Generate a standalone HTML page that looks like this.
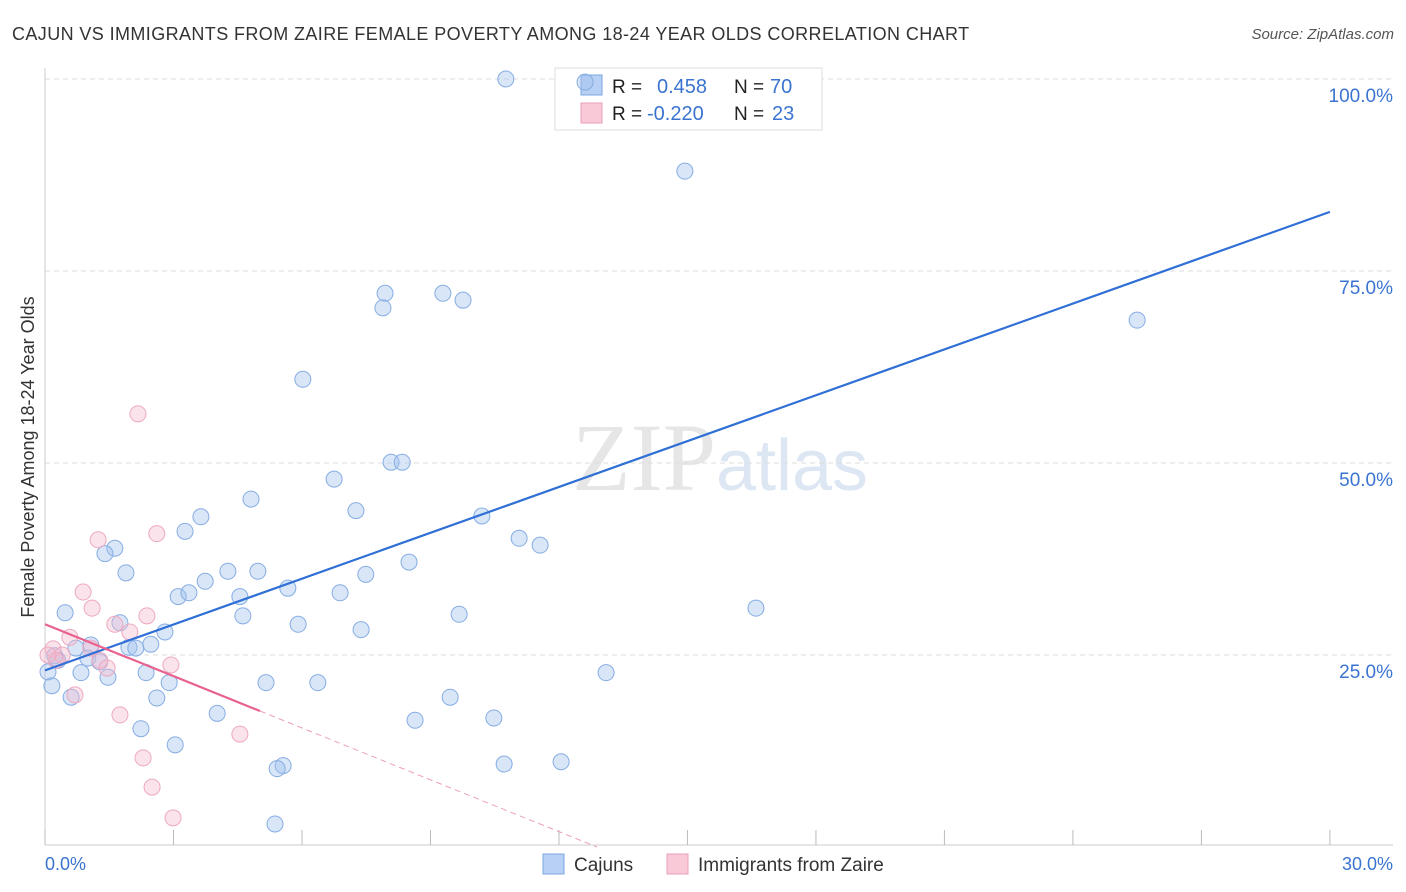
<!DOCTYPE html>
<html><head><meta charset="utf-8"><style>
body{margin:0;background:#fff;font-family:"Liberation Sans",sans-serif;}
svg{display:block}
</style></head><body>
<svg id="chart" width="1406" height="892">
<text x="12" y="40" font-size="18" fill="#333" letter-spacing="0.4">CAJUN VS IMMIGRANTS FROM ZAIRE FEMALE POVERTY AMONG 18-24 YEAR OLDS CORRELATION CHART</text>
<text x="1394" y="39" font-size="15" fill="#555" font-style="italic" text-anchor="end">Source: ZipAtlas.com</text>
<text x="720" y="490" font-size="96" fill="#e6e6e6" text-anchor="middle" font-family="Liberation Serif">ZIP<tspan fill="#dde6f3" font-family="Liberation Sans" font-size="72">atlas</tspan></text>
<g id="grid"></g>
<g id="axes"></g>
<g>
<rect x="555" y="68" width="267" height="62" fill="#fff" stroke="#ddd"/>
<rect x="581" y="75" width="21" height="20" fill="#b8d0f3" stroke="#7aa6e0"/>
<rect x="581" y="103" width="21" height="20" fill="#f9c9d7" stroke="#eaa0b8"/>
<text x="612" y="93" font-size="19" fill="#222">R = </text><text x="657" y="93" font-size="20" fill="#3a74d0">0.458</text>
<text x="734" y="93" font-size="19" fill="#222">N = </text><text x="770" y="93" font-size="20" fill="#3a74d0">70</text>
<text x="612" y="120" font-size="19" fill="#222">R = </text><text x="647" y="120" font-size="20" fill="#3a74d0">-0.220</text>
<text x="734" y="120" font-size="19" fill="#222">N = </text><text x="772" y="120" font-size="20" fill="#3a74d0">23</text>
</g>
<g id="marks"></g>
<text transform="translate(34,457) rotate(-90)" font-size="18" fill="#333" text-anchor="middle">Female Poverty Among 18-24 Year Olds</text>
<g>
<rect x="543" y="854" width="21" height="20" fill="#b8d0f3" stroke="#7aa6e0"/>
<text x="574" y="871" font-size="19" fill="#333">Cajuns</text>
<rect x="667" y="854" width="21" height="20" fill="#f9c9d7" stroke="#eaa0b8"/>
<text x="698" y="871" font-size="19" fill="#333">Immigrants from Zaire</text>
</g>
</svg>
<script>
const blueX=[10.76,12.61,14.94,25.5,7.94,7.89,9.29,9.76,6.02,8.08,8.34,6.75,4.81,7.26,10.2,3.64,3.27,11.07,11.56,1.63,1.40,8.5,1.89,4.27,4.97,7.49,3.74,5.67,3.11,3.36,4.55,6.89,0.47,4.62,9.67,16.6,1.75,5.91,2.8,7.38,2.47,1.96,2.12,1.07,0.72,0.3,1.0,1.28,0.84,1.47,2.36,13.1,0.16,2.9,5.16,6.37,2.61,0.61,9.46,4.02,10.48,8.64,2.24,3.04,5.56,5.42,10.72,12.05,5.37,0.07,0.23];
const blueY=[100,99.6,88.0,68.6,72.1,70.2,72.1,71.2,60.9,50.1,50.1,47.9,45.3,43.8,43.1,43.0,41.1,40.2,39.3,38.9,38.2,37.1,35.7,35.9,35.9,35.5,34.6,33.7,32.6,33.1,32.6,33.1,30.5,30.1,30.3,31.1,29.2,29.0,28.0,28.3,26.4,26.0,25.9,26.3,25.9,24.3,24.6,24.1,22.7,22.1,22.7,22.7,21.0,21.4,21.4,21.4,19.4,19.5,19.5,17.4,16.8,16.5,15.4,13.3,10.6,10.2,10.8,11.1,3.0,22.8,24.9];
const pinkX=[2.17,2.61,1.24,0.89,1.1,2.38,1.63,1.98,0.58,0.19,0.4,0.26,1.07,1.28,1.45,2.94,0.7,1.75,4.55,2.29,2.5,2.99,0.07];
const pinkY=[56.4,40.8,40.0,33.2,31.1,30.1,29.0,28.0,27.3,25.8,25.0,24.3,25.9,24.3,23.3,23.7,19.8,17.2,14.7,11.6,7.8,3.8,25.0];
const blueTrend=[23.0,1.99];
const pinkTrend=[29.0,-2.25];
const yTicks=[25,50,75,100];
const yTickLabels=["25.0%","50.0%","75.0%","100.0%"];
const xTicks=[0,3,6,9,12,15,18,21,24,27,30];
const NS="http://www.w3.org/2000/svg";
const sx=v=>45+v*42.83, sy=v=>847-v*7.68;
function mk(tag,attrs,parent){const e=document.createElementNS(NS,tag);for(const k in attrs)e.setAttribute(k,attrs[k]);document.getElementById(parent).appendChild(e);return e;}
yTicks.forEach((t,i)=>{
 const l=mk('line',{x1:45,x2:1393,y1:sy(t),y2:sy(t),stroke:'#ddd','stroke-dasharray':'5,4'},'grid');
 
 
 const tx=mk('text',{x:1393,y:sy(t)+23,'font-size':19,fill:'#3a74d0','text-anchor':'end'},'axes');
 tx.textContent=yTickLabels[i];
 
 
});
let a=mk('line',{x1:45,x2:45,y1:68,y2:845,stroke:'#ccc'},'axes');


a=mk('line',{x1:45,x2:1393,y1:845,y2:845,stroke:'#ccc'},'axes');


xTicks.forEach(t=>{const l=mk('line',{x1:sx(t),x2:sx(t),y1:830,y2:845,stroke:'#bbb'},'axes');
 
 });
let t1=mk('text',{x:45,y:870,'font-size':18,fill:'#3a74d0'},'axes');t1.textContent='0.0%';


let t2=mk('text',{x:1393,y:870,'font-size':18,fill:'#3a74d0','text-anchor':'end'},'axes');t2.textContent='30.0%';


blueX.forEach((x,i)=>{const c=mk('circle',{cx:sx(x),cy:sy(blueY[i]),r:8,fill:'rgba(160,192,238,0.4)',stroke:'#86ade3','stroke-width':1},'marks');
 
 });
pinkX.forEach((x,i)=>{const c=mk('circle',{cx:sx(x),cy:sy(pinkY[i]),r:8,fill:'rgba(246,185,206,0.4)',stroke:'#eda9c0','stroke-width':1},'marks');
 
 });
let bl=mk('line',{x1:sx(0),y1:sy(blueTrend[0]),x2:sx(30),y2:sy(blueTrend[0]+30*blueTrend[1]),stroke:'#2f6fd6','stroke-width':2.2},'marks');


const pe=5.02, pz=-pinkTrend[0]/pinkTrend[1];
let pl=mk('line',{x1:sx(0),y1:sy(pinkTrend[0]),x2:sx(pe),y2:sy(pinkTrend[0]+pe*pinkTrend[1]),stroke:'#e8628f','stroke-width':2.2},'marks');


let pd=mk('line',{x1:sx(pe),y1:sy(pinkTrend[0]+pe*pinkTrend[1]),x2:sx(pz),y2:sy(0),stroke:'#eba1ba','stroke-width':1,'stroke-dasharray':'6,4'},'marks');


</script>
</body></html>
